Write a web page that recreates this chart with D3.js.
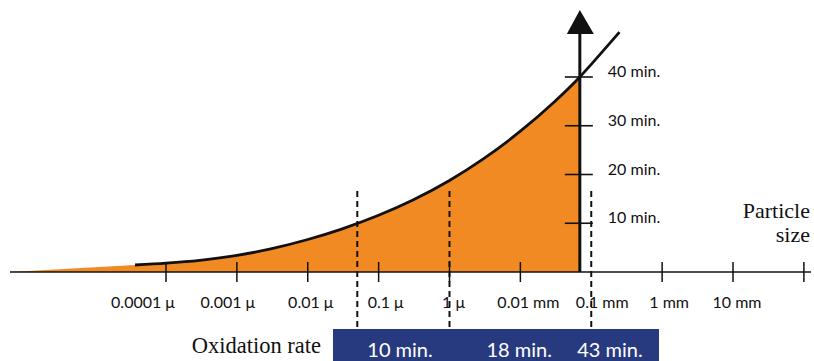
<!DOCTYPE html>
<html>
<head>
<meta charset="utf-8">
<script src="https://cdn.jsdelivr.net/npm/d3@7"></script>
<style>
  body { margin: 0; background: #ffffff; }
  svg { display: block; }
</style>
</head>
<body>
<svg id="chart" width="814" height="361"></svg>
<script>
// Particle size axis (values in micrometres, log scale)
const sizeTicks = [1e-4, 1e-3, 1e-2, 1e-1, 1, 10, 100, 1000, 10000, 100000];
const sizeLabels = ["0.0001 μ", "0.001 μ", "0.01 μ", "0.1 μ", "1 μ", "0.01 mm", "0.1 mm", "1 mm", "10 mm", ""];

// Time axis (minutes)
const timeTicks = [10, 20, 30, 40];
const timeLabels = ["10 min.", "20 min.", "30 min.", "40 min."];

// Oxidation time versus particle size
const curveSizes   = [6.3e-7, 3.66e-5, 1e-4, 3e-4, 1e-3, 3e-3, 1e-2, 3e-2, 0.1,   0.3,   1,     3,    10,    30,    69, 100,  250];
const curveMinutes = [0,      1.44,    1.81, 2.39, 3.39, 4.74, 6.67, 8.81, 11.63, 14.71, 18.77, 23.2, 28.88, 34.87, 40, 42.6, 49.2];

// Oxidation rate markers
const rateSizes   = [0.05, 1, 100];
const rateMinutes = [10, 18, 43];
const rateLabels  = ["10 min.", "18 min.", "43 min."];

// Where the time axis crosses the size axis (µm)
const timeAxisAt = 69;

const svg = d3.select("#chart");
const orange = "#f28a24";
const navy = "#283a7f";
const ink = "#111111";
const sans = "Lato, 'Open Sans', sans-serif";
const serif = "'Liberation Serif', 'Times New Roman', serif";

const x = d3.scaleLog().domain([1e-4, 1e4]).range([166, 733]);
const y = d3.scaleLinear().domain([0, 40]).range([272, 77]);

const curve = curveSizes.map((s, i) => ({ s, m: curveMinutes[i] }));

// Filled region under the curve, up to the time axis
const area = d3.area()
  .x(d => x(d.s))
  .y0(y(0))
  .y1(d => y(d.m))
  .curve(d3.curveMonotoneX);

svg.append("path")
  .datum(curve.filter(d => d.s <= timeAxisAt))
  .attr("d", area)
  .attr("fill", orange);

// Size axis line and ticks
const xAxisY = y(0);
const axisX = x(timeAxisAt);

svg.append("line")
  .attr("x1", 10).attr("x2", 811)
  .attr("y1", xAxisY).attr("y2", xAxisY)
  .attr("stroke", ink).attr("stroke-width", 1.6);

svg.append("g").selectAll("line")
  .data(sizeTicks.filter(t => Math.abs(x(t) - axisX) > 15))
  .join("line")
  .attr("x1", d => x(d)).attr("x2", d => x(d))
  .attr("y1", xAxisY - 10).attr("y2", xAxisY + 10)
  .attr("stroke", ink).attr("stroke-width", 1.5);

const labelShift = [-23, -9, 3, 7, 4, 8, 11, 7, 4, 0];
svg.append("g").selectAll("text")
  .data(sizeTicks)
  .join("text")
  .attr("x", (d, i) => x(d) + labelShift[i])
  .attr("y", 308)
  .attr("text-anchor", "middle")
  .attr("font-family", sans)
  .attr("font-size", 16)
  .attr("fill", "#111")
  .text((d, i) => sizeLabels[i]);

// Dashed marker lines
svg.append("g").selectAll("line")
  .data(rateSizes)
  .join("line")
  .attr("x1", d => x(d)).attr("x2", d => x(d))
  .attr("y1", 191).attr("y2", 330)
  .attr("stroke", ink).attr("stroke-width", 2)
  .attr("stroke-dasharray", "6,4");

// Curve stroke
const line = d3.line()
  .x(d => x(d.s))
  .y(d => y(d.m))
  .curve(d3.curveMonotoneX);

svg.append("path")
  .datum(curve.slice(1))
  .attr("d", line)
  .attr("fill", "none")
  .attr("stroke", ink)
  .attr("stroke-width", 2.8);

// Time axis with arrow
svg.append("line")
  .attr("x1", axisX).attr("x2", axisX)
  .attr("y1", xAxisY).attr("y2", 30)
  .attr("stroke", ink).attr("stroke-width", 3);

svg.append("path")
  .attr("d", `M${axisX},10 L${axisX - 13},34 L${axisX + 14},34 Z`)
  .attr("fill", ink);

svg.append("g").selectAll("line")
  .data(timeTicks)
  .join("line")
  .attr("x1", axisX - 15).attr("x2", axisX + 13)
  .attr("y1", d => y(d)).attr("y2", d => y(d))
  .attr("stroke", ink).attr("stroke-width", 1.6);

svg.append("g").selectAll("text")
  .data(timeTicks)
  .join("text")
  .attr("x", axisX + 28)
  .attr("y", d => y(d))
  .attr("font-family", sans)
  .attr("font-size", 16)
  .attr("fill", "#111")
  .text((d, i) => timeLabels[i]);

// Axis title
svg.append("text")
  .attr("x", 810).attr("y", 218)
  .attr("text-anchor", "end")
  .attr("font-family", serif).attr("font-size", 22).attr("fill", "#111")
  .text("Particle");
svg.append("text")
  .attr("x", 810).attr("y", 242)
  .attr("text-anchor", "end")
  .attr("font-family", serif).attr("font-size", 22).attr("fill", "#111")
  .text("size");

// Oxidation rate band
svg.append("text")
  .attr("x", 321).attr("y", 353)
  .attr("text-anchor", "end")
  .attr("font-family", serif).attr("font-size", 22.5).attr("fill", "#111")
  .text("Oxidation rate");

svg.append("rect")
  .attr("x", 333).attr("y", 329)
  .attr("width", 326).attr("height", 40)
  .attr("fill", navy);

const rateShift = [10, 37, -14];
svg.append("g").selectAll("text")
  .data(rateSizes)
  .join("text")
  .attr("x", (d, i) => x(d) + rateShift[i])
  .attr("y", 357)
  .attr("font-family", sans)
  .attr("font-size", 20)
  .attr("fill", "#ffffff")
  .text((d, i) => rateLabels[i]);
</script>
</body>
</html>
